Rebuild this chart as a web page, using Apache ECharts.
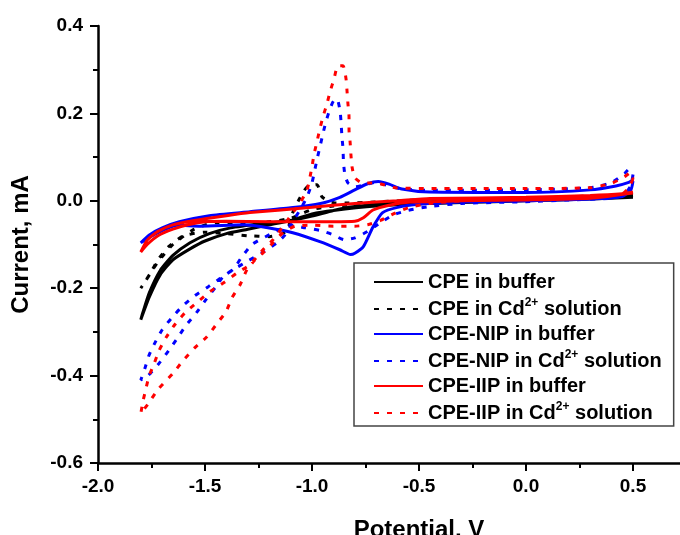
<!DOCTYPE html>
<html lang="en">

<head>
    <meta charset="UTF-8">
    <title>Cyclic voltammograms</title>
    <script src="https://cdn.jsdelivr.net/npm/echarts@6/dist/echarts.min.js"></script>
</head>

<body style="margin:0">
    <div id="main" style="width: 680px;height:535px;"></div>
    <script type="text/javascript">
        // [potential V, current mA], cathodic sweep from 0.5 to -1.8 then back
        const cpeBuffer = [
            [0.5, 0.008], [0.3, 0.004], [0, 0.0], [-0.3, -0.004], [-0.5, -0.007], [-0.7, -0.012],
            [-0.9, -0.022], [-1.0, -0.03], [-1.1, -0.045], [-1.2, -0.055], [-1.3, -0.065], [-1.4, -0.075],
            [-1.5, -0.092], [-1.57, -0.11], [-1.65, -0.135], [-1.71, -0.17], [-1.76, -0.22], [-1.8, -0.272],
            [-1.79, -0.255], [-1.76, -0.21], [-1.71, -0.16], [-1.65, -0.125], [-1.57, -0.096], [-1.48, -0.075],
            [-1.38, -0.062], [-1.23, -0.052], [-1.1, -0.045], [-1.0, -0.035], [-0.9, -0.022], [-0.8, -0.013],
            [-0.6, -0.005], [-0.3, 0.0], [0, 0.004], [0.3, 0.008], [0.5, 0.014]
        ];
        const cpeCd = [
            [0.5, 0.012], [0.3, 0.006], [0, 0.002], [-0.3, -0.002], [-0.5, -0.004], [-0.7, -0.007],
            [-0.9, -0.012], [-1.0, -0.02], [-1.1, -0.04], [-1.2, -0.048], [-1.35, -0.05], [-1.45, -0.05],
            [-1.55, -0.065], [-1.65, -0.1], [-1.72, -0.14], [-1.8, -0.2],
            [-1.76, -0.17], [-1.72, -0.135], [-1.67, -0.105], [-1.6, -0.08], [-1.5, -0.072], [-1.4, -0.075],
            [-1.3, -0.08], [-1.2, -0.082], [-1.12, -0.07], [-1.09, -0.027], [-1.056, 0.007], [-1.023, 0.032],
            [-0.977, 0.037], [-0.953, 0.009], [-0.893, -0.005], [-0.836, -0.005], [-0.5, 0.002], [0, 0.006],
            [0.5, 0.014]
        ];
        const nipBuffer = [
            [0.5, 0.045], [0.49, 0.025], [0.45, 0.01], [0.3, 0.004], [0, 0.0], [-0.3, -0.003], [-0.5, -0.008],
            [-0.6, -0.015], [-0.67, -0.027], [-0.715, -0.06], [-0.76, -0.105], [-0.8, -0.12], [-0.82, -0.123],
            [-0.87, -0.112], [-0.96, -0.094], [-1.09, -0.073], [-1.2, -0.062], [-1.32, -0.055], [-1.52, -0.058],
            [-1.63, -0.056], [-1.72, -0.073], [-1.8, -0.096],
            [-1.76, -0.078], [-1.7, -0.062], [-1.62, -0.048], [-1.48, -0.034], [-1.29, -0.025], [-1.1, -0.016],
            [-0.96, -0.006], [-0.87, 0.008], [-0.8, 0.025], [-0.74, 0.039], [-0.69, 0.044], [-0.64, 0.038],
            [-0.58, 0.027], [-0.45, 0.02], [0, 0.019], [0.3, 0.025], [0.42, 0.034], [0.48, 0.042], [0.5, 0.048]
        ];
        const nipCd = [
            [0.5, 0.06], [0.49, 0.035], [0.46, 0.015], [0.4, 0.006], [0.2, 0.002], [0, -0.002], [-0.3, -0.006],
            [-0.45, -0.013], [-0.55, -0.022], [-0.62, -0.032], [-0.68, -0.05], [-0.74, -0.07], [-0.8, -0.085],
            [-0.85, -0.089], [-0.9, -0.078], [-0.96, -0.068], [-1.03, -0.062], [-1.1, -0.056], [-1.18, -0.073],
            [-1.28, -0.1], [-1.33, -0.13], [-1.37, -0.158], [-1.41, -0.17], [-1.45, -0.197], [-1.5, -0.229],
            [-1.54, -0.256], [-1.59, -0.286], [-1.63, -0.315], [-1.67, -0.343], [-1.72, -0.375], [-1.77, -0.402],
            [-1.8, -0.41],
            [-1.78, -0.382], [-1.762, -0.354], [-1.734, -0.325], [-1.7, -0.295], [-1.654, -0.267], [-1.603, -0.24],
            [-1.547, -0.217], [-1.486, -0.197], [-1.43, -0.178], [-1.369, -0.158], [-1.304, -0.139],
            [-1.234, -0.119], [-1.164, -0.096], [-1.126, -0.078], [-1.093, -0.05], [-1.056, -0.021],
            [-1.023, 0.009], [-1.0, 0.041], [-0.977, 0.094], [-0.963, 0.123], [-0.949, 0.153], [-0.935, 0.181],
            [-0.916, 0.21], [-0.9, 0.228], [-0.883, 0.233], [-0.869, 0.206], [-0.864, 0.178], [-0.86, 0.146],
            [-0.855, 0.119], [-0.853, 0.089], [-0.846, 0.059], [-0.832, 0.041], [-0.8, 0.032], [-0.752, 0.037],
            [-0.706, 0.042], [-0.659, 0.037], [-0.589, 0.028], [-0.45, 0.024], [0, 0.025], [0.3, 0.03],
            [0.4, 0.042], [0.46, 0.062], [0.48, 0.072], [0.5, 0.06]
        ];
        const iipBuffer = [
            [0.5, 0.018], [0.3, 0.006], [0, 0.002], [-0.3, 0.0], [-0.45, -0.002], [-0.54, -0.003], [-0.64, -0.01],
            [-0.715, -0.021], [-0.76, -0.039], [-0.8, -0.047], [-0.9, -0.048], [-1.0, -0.048], [-1.2, -0.048],
            [-1.4, -0.047], [-1.5, -0.048], [-1.58, -0.055], [-1.65, -0.065], [-1.72, -0.08], [-1.77, -0.1],
            [-1.8, -0.117],
            [-1.77, -0.09], [-1.72, -0.07], [-1.65, -0.055], [-1.55, -0.045], [-1.4, -0.034], [-1.29, -0.027],
            [-1.0, -0.015], [-0.8, -0.006], [-0.6, 0.0], [-0.45, 0.005], [0, 0.008], [0.3, 0.012],
            [0.45, 0.016], [0.5, 0.02]
        ];
        const iipCd = [
            [0.5, 0.05], [0.48, 0.03], [0.45, 0.016], [0.3, 0.008], [0, 0.004], [-0.3, 0.0], [-0.45, -0.006],
            [-0.55, -0.016], [-0.62, -0.03], [-0.68, -0.045], [-0.74, -0.055], [-0.8, -0.058], [-0.9, -0.058],
            [-1.0, -0.056], [-1.08, -0.058], [-1.136, -0.073], [-1.182, -0.096], [-1.229, -0.119],
            [-1.266, -0.135], [-1.304, -0.158], [-1.336, -0.192], [-1.374, -0.222], [-1.402, -0.254],
            [-1.444, -0.281], [-1.491, -0.311], [-1.547, -0.336], [-1.603, -0.366], [-1.65, -0.395],
            [-1.72, -0.432], [-1.762, -0.462], [-1.8, -0.487],
            [-1.79, -0.459], [-1.776, -0.43], [-1.762, -0.402], [-1.738, -0.373], [-1.715, -0.343],
            [-1.682, -0.313], [-1.645, -0.286], [-1.593, -0.256], [-1.533, -0.231], [-1.477, -0.208],
            [-1.411, -0.187], [-1.35, -0.165], [-1.29, -0.146], [-1.229, -0.112], [-1.182, -0.089],
            [-1.136, -0.059], [-1.089, -0.027], [-1.056, -0.005], [-1.023, 0.025], [-1.0, 0.078],
            [-0.991, 0.105], [-0.977, 0.135], [-0.963, 0.165], [-0.949, 0.192], [-0.93, 0.222],
            [-0.916, 0.249], [-0.897, 0.279], [-0.879, 0.309], [-0.855, 0.309], [-0.841, 0.279],
            [-0.836, 0.249], [-0.832, 0.222], [-0.827, 0.192], [-0.827, 0.162], [-0.822, 0.135],
            [-0.818, 0.105], [-0.813, 0.078], [-0.8, 0.053], [-0.766, 0.041], [-0.72, 0.041], [-0.682, 0.039],
            [-0.612, 0.03], [-0.45, 0.028], [0, 0.028], [0.3, 0.03], [0.4, 0.04], [0.46, 0.055],
            [0.49, 0.065], [0.5, 0.05]
        ];

        const seriesNames = [
            'CPE in buffer', 'CPE in Cd2+ solution',
            'CPE-NIP in buffer', 'CPE-NIP in Cd2+ solution',
            'CPE-IIP in buffer', 'CPE-IIP in Cd2+ solution'
        ];
        const seriesData = [cpeBuffer, cpeCd, nipBuffer, nipCd, iipBuffer, iipCd];
        const seriesColors = ['#000000', '#000000', '#0000ff', '#0000ff', '#ff0000', '#ff0000'];

        const font = 'Liberation Sans, Arial, sans-serif';

        let myChart = echarts.init(document.getElementById('main'));

        let options = {
            animation: false,
            backgroundColor: '#ffffff',
            grid: { left: 98, top: 26, bottom: 72, right: -60, outerBoundsMode: 'none', containLabel: false },
            legend: {
                orient: 'vertical',
                left: 354,
                top: 263,
                data: seriesNames,
                itemWidth: 49,
                itemHeight: 14,
                itemGap: 5,
                padding: [9, 12, 3, 19],
                borderColor: '#444',
                borderWidth: 1.5,
                selectedMode: false,
                itemStyle: { opacity: 0 },
                formatter: function (name) {
                    const parts = name.split('2+');
                    if (parts.length === 1) return '{a|' + name + '}';
                    return '{a|' + parts[0] + '}{s|2+}{a|' + parts[1] + '}';
                },
                textStyle: {
                    fontFamily: font,
                    fontWeight: 'bold',
                    fontSize: 20,
                    color: '#000',
                    rich: {
                        a: { fontFamily: font, fontWeight: 'bold', fontSize: 20, lineHeight: 24, color: '#000' },
                        s: { fontFamily: font, fontWeight: 'bold', fontSize: 12, lineHeight: 12, verticalAlign: 'top', color: '#000' }
                    }
                }
            },
            xAxis: {
                type: 'value',
                min: -2.0,
                max: 1.0,
                interval: 0.5,
                name: 'Potential, V',
                nameLocation: 'middle',
                nameGap: 55,
                nameTextStyle: { fontFamily: font, fontWeight: 'bold', fontSize: 24, color: '#000' },
                axisLine: { onZero: false, lineStyle: { color: '#000', width: 2.5 } },
                axisTick: { length: 8, lineStyle: { color: '#000', width: 2 } },
                minorTick: { show: true, splitNumber: 2, length: 5, lineStyle: { color: '#000', width: 2 } },
                splitLine: { show: false },
                axisLabel: {
                    margin: 14,
                    fontFamily: font, fontWeight: 'bold', fontSize: 19, color: '#000',
                    formatter: v => v.toFixed(1)
                }
            },
            yAxis: {
                type: 'value',
                min: -0.6,
                max: 0.4,
                interval: 0.2,
                name: 'Current, mA',
                nameLocation: 'middle',
                nameGap: 65,
                nameTextStyle: { fontFamily: font, fontWeight: 'bold', fontSize: 24, color: '#000' },
                axisLine: { show: true, onZero: false, lineStyle: { color: '#000', width: 2.5 } },
                axisTick: { length: 8, lineStyle: { color: '#000', width: 2 } },
                minorTick: { show: true, splitNumber: 2, length: 5, lineStyle: { color: '#000', width: 2 } },
                splitLine: { show: false },
                axisLabel: {
                    margin: 15,
                    fontFamily: font, fontWeight: 'bold', fontSize: 19, color: '#000',
                    formatter: v => v.toFixed(1)
                }
            },
            series: seriesNames.map((name, i) => ({
                name: name,
                type: 'line',
                data: seriesData[i],
                symbol: 'none',
                smooth: 0.2,
                color: seriesColors[i],
                lineStyle: {
                    color: seriesColors[i],
                    width: 3,
                    type: i % 2 === 1 ? [5, 8] : 'solid'
                }
            }))
        };

        myChart.setOption(options);
    </script>
</body>

</html>
